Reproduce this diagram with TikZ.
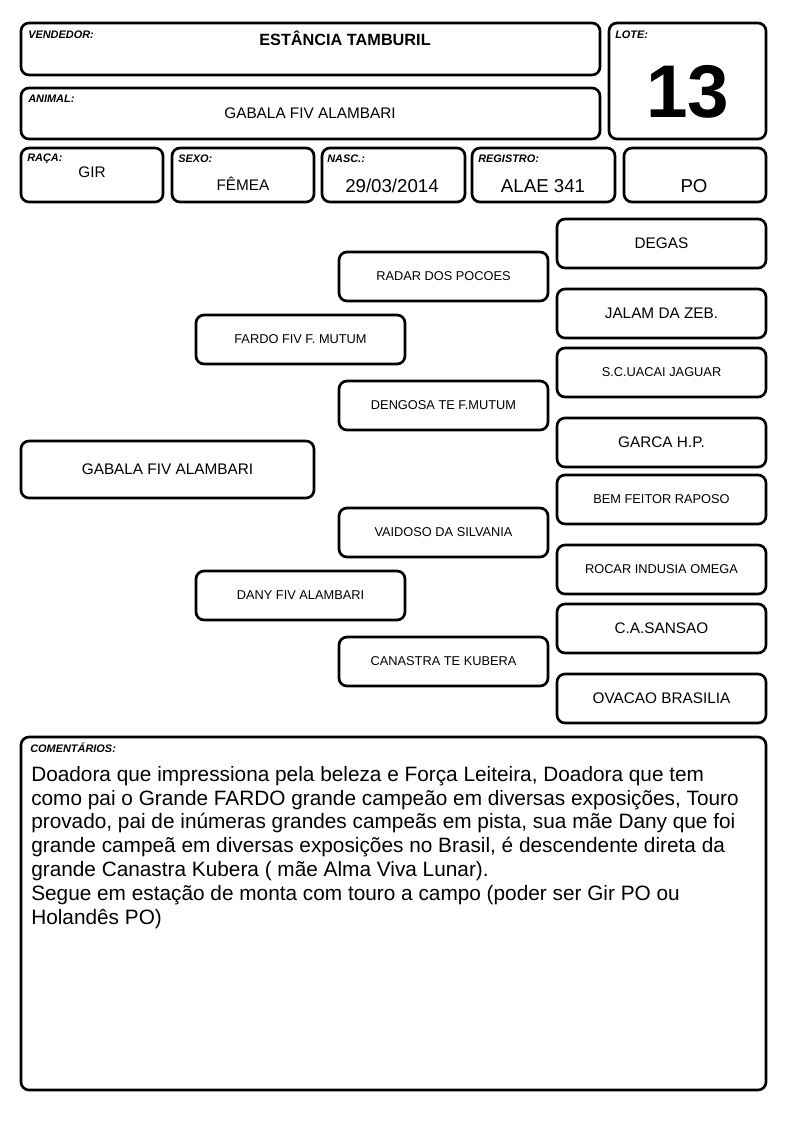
\documentclass[tikz,border=0pt]{standalone}
\usepackage{fontspec}
\setmainfont{Liberation Sans}
\begin{document}
\begin{tikzpicture}[x=0.75pt,y=-0.75pt,
  box/.style={draw, line width=2pt, rounded corners=6pt, inner sep=0pt, align=center},
  ped/.style={box, minimum width=209*0.75pt, minimum height=49*0.75pt},
  big/.style={font=\fontsize{11.5}{13}\selectfont},
  small/.style={font=\fontsize{9.6}{11}\selectfont},
  lbl/.style={font=\fontsize{8.2}{9}\selectfont\bfseries\itshape, anchor=west, inner sep=0pt},
  val/.style={font=\fontsize{11.5}{13}\selectfont, inner sep=0pt},
  valbig/.style={font=\fontsize{14}{15}\selectfont, inner sep=0pt}]
\useasboundingbox (0,0) rectangle (794,1123);
% header
\node[box, minimum width=579*0.75pt, minimum height=52*0.75pt] (vend) at (310.5,49) {};
\node[box, minimum width=579*0.75pt, minimum height=51*0.75pt] (anim) at (310.5,113.5) {};
\node[box, minimum width=157*0.75pt, minimum height=116*0.75pt] (lote) at (687.5,81) {};
\node[box, minimum width=142*0.75pt, minimum height=54*0.75pt] (raca) at (92,175) {};
\node[box, minimum width=142*0.75pt, minimum height=54*0.75pt] (sexo) at (243,175) {};
\node[box, minimum width=143*0.75pt, minimum height=54*0.75pt] (nasc) at (393.5,175) {};
\node[box, minimum width=143*0.75pt, minimum height=54*0.75pt] (reg) at (543.5,175) {};
\node[box, minimum width=142*0.75pt, minimum height=54*0.75pt] (po) at (695,175) {};
\node[lbl] (lvend) at (28,35) {VENDEDOR:};
\node[lbl] (lanim) at (28,99) {ANIMAL:};
\node[lbl] (llote) at (615,35) {LOTE:};
\node[lbl] (lraca) at (27,159) {RAÇA:};
\node[lbl] (lsexo) at (178,159) {SEXO:};
\node[lbl] (lnasc) at (327,159) {NASC.:};
\node[lbl] (lreg) at (478,159) {REGISTRO:};
\node[val, font=\fontsize{12.2}{13}\selectfont\bfseries] (tvend) at (345,38) {ESTÂNCIA TAMBURIL};
\node[val] (tanim) at (310,113) {GABALA FIV ALAMBARI};
\node[inner sep=0pt, font=\fontsize{56}{60}\selectfont\bfseries] (tlote) at (688,92) {13};
\node[val] (traca) at (92,172) {GIR};
\node[val] (tsexo) at (243,184) {FÊMEA};
\node[valbig] (tnasc) at (392,186) {29/03/2014};
\node[valbig] (treg) at (543,186) {ALAE 341};
\node[valbig] (tpo) at (694,186) {PO};
% pedigree
\node[box, big, minimum width=293*0.75pt, minimum height=57*0.75pt] (animal) at (167.5,469.5) {GABALA FIV ALAMBARI};
\node[ped, small] (pai) at (300.5,339.5) {FARDO FIV F. MUTUM};
\node[ped, small] (mae) at (300.5,595.5) {DANY FIV ALAMBARI};
\node[ped, small] (pp) at (443.5,276.5) {RADAR DOS POCOES};
\node[ped, small] (pm) at (443.5,405.5) {DENGOSA TE F.MUTUM};
\node[ped, small] (mp) at (443.5,532.5) {VAIDOSO DA SILVANIA};
\node[ped, small] (mm) at (443.5,661.5) {CANASTRA TE KUBERA};
\node[ped, big] (ppp) at (661.5,243.5) {DEGAS};
\node[ped, big] (ppm) at (661.5,313.5) {JALAM DA ZEB.};
\node[ped, small] (pmp) at (661.5,372.5) {S.C.UACAI JAGUAR};
\node[ped, big] (pmm) at (661.5,442.5) {GARCA H.P.};
\node[ped, small] (mpp) at (661.5,499.5) {BEM FEITOR RAPOSO};
\node[ped, small] (mpm) at (661.5,569.5) {ROCAR INDUSIA OMEGA};
\node[ped, big] (mmp) at (661.5,628.5) {C.A.SANSAO};
\node[ped, big] (mmm) at (661.5,698.5) {OVACAO BRASILIA};
% comments
\node[box, minimum width=745*0.75pt, minimum height=353*0.75pt] (com) at (393.5,913.5) {};
\node[lbl, font=\fontsize{8.2}{9}\selectfont\bfseries\itshape] (lcom) at (30,748) {COMENTÁRIOS:};
\node[anchor=north west, inner sep=0pt, align=left, font=\fontsize{15.6}{17.85}\selectfont] (tcom) at (31,766) {Doadora que impressiona pela beleza e Força Leiteira, Doadora que tem\\
como pai o Grande FARDO grande campeão em diversas exposições, Touro\\
provado, pai de inúmeras grandes campeãs em pista, sua mãe Dany que foi\\
grande campeã em diversas exposições no Brasil, é descendente direta da\\
grande Canastra Kubera ( mãe Alma Viva Lunar).\\
Segue em estação de monta com touro a campo (poder ser Gir PO ou\\
Holandês PO)};
\end{tikzpicture}
\end{document}
